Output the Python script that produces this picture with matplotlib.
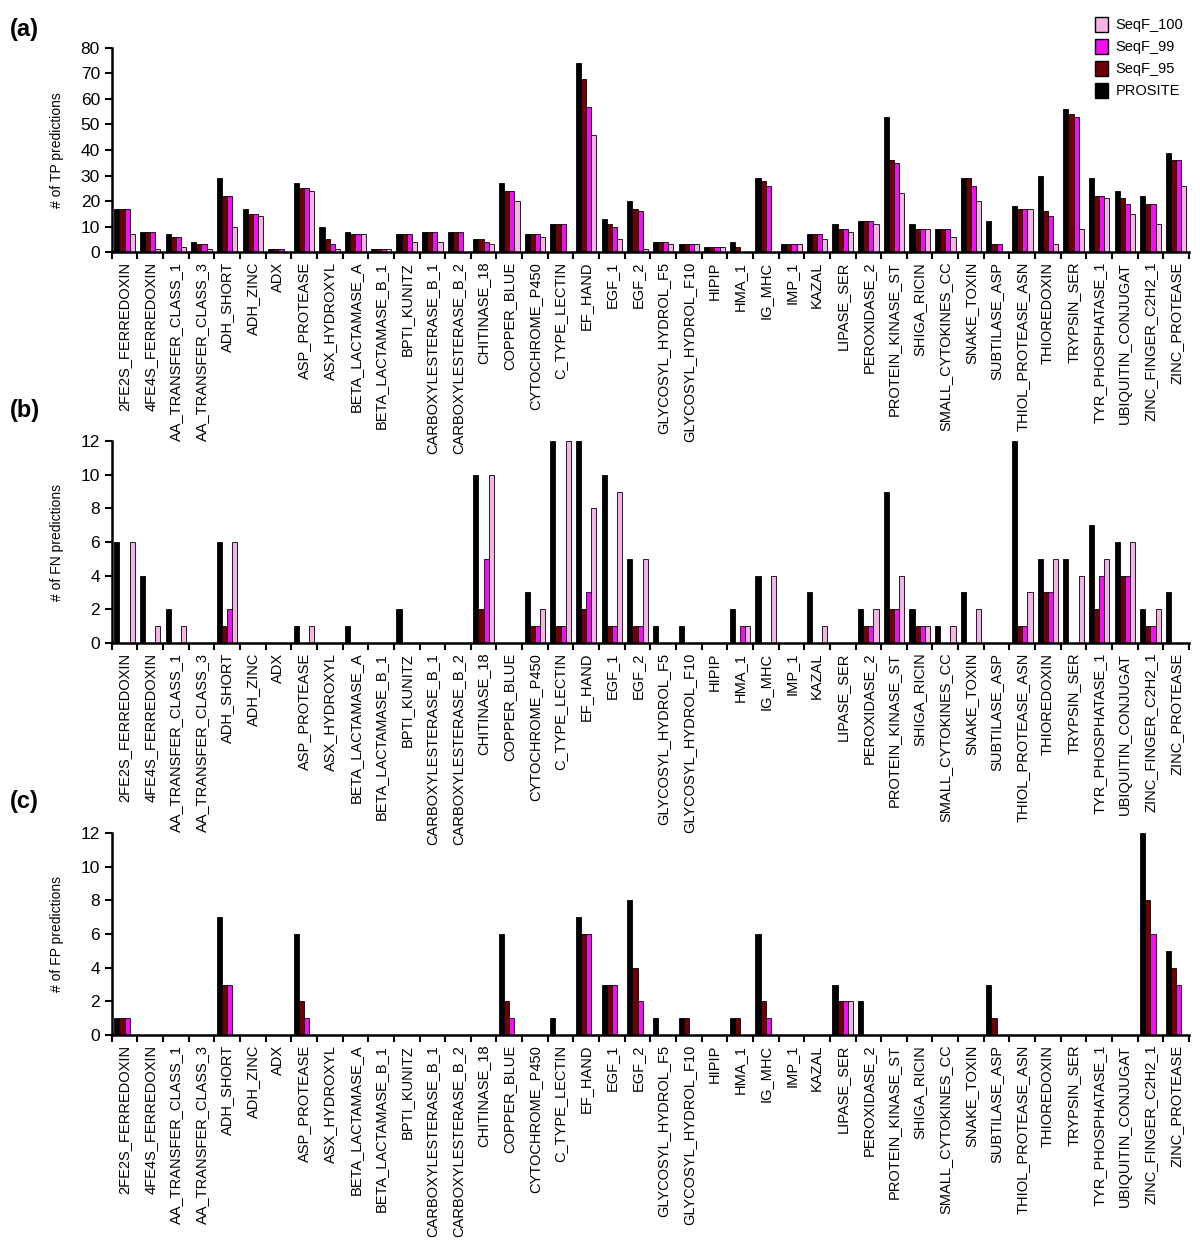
import numpy as np
import matplotlib
matplotlib.use('Agg')
import matplotlib.pyplot as plt
from matplotlib.patches import Patch

plt.rcParams['font.family'] = ['Liberation Sans', 'DejaVu Sans']

# protein families (x axis)
families = [
    '2FE2S_FERREDOXIN', '4FE4S_FERREDOXIN', 'AA_TRANSFER_CLASS_1', 'AA_TRANSFER_CLASS_3',
    'ADH_SHORT', 'ADH_ZINC', 'ADX', 'ASP_PROTEASE', 'ASX_HYDROXYL', 'BETA_LACTAMASE_A',
    'BETA_LACTAMASE_B_1', 'BPTI_KUNITZ', 'CARBOXYLESTERASE_B_1', 'CARBOXYLESTERASE_B_2',
    'CHITINASE_18', 'COPPER_BLUE', 'CYTOCHROME_P450', 'C_TYPE_LECTIN', 'EF_HAND', 'EGF_1',
    'EGF_2', 'GLYCOSYL_HYDROL_F5', 'GLYCOSYL_HYDROL_F10', 'HIPIP', 'HMA_1', 'IG_MHC', 'IMP_1',
    'KAZAL', 'LIPASE_SER', 'PEROXIDASE_2', 'PROTEIN_KINASE_ST', 'SHIGA_RICIN',
    'SMALL_CYTOKINES_CC', 'SNAKE_TOXIN', 'SUBTILASE_ASP', 'THIOL_PROTEASE_ASN', 'THIOREDOXIN',
    'TRYPSIN_SER', 'TYR_PHOSPHATASE_1', 'UBIQUITIN_CONJUGAT', 'ZINC_FINGER_C2H2_1', 'ZINC_PROTEASE']

series = ['PROSITE', 'SeqF_95', 'SeqF_99', 'SeqF_100']
colors = ['#000000', '#6e0008', '#f010f0', '#f5b4e6']

# (a) true positives
tp_prosite = [17, 8, 7, 4, 29, 17, 1, 27, 10, 8, 1, 7, 8, 8, 5, 27, 7, 11, 74, 13, 20, 4, 3, 2,
              4, 29, 3, 7, 11, 12, 53, 11, 9, 29, 12, 18, 30, 56, 29, 24, 22, 39]
tp_seqf95 = [17, 8, 6, 3, 22, 15, 1, 25, 5, 7, 1, 7, 8, 8, 5, 24, 7, 11, 68, 11, 17, 4, 3, 2,
             2, 28, 3, 7, 9, 12, 36, 9, 9, 29, 3, 17, 16, 54, 22, 21, 19, 36]
tp_seqf99 = [17, 8, 6, 3, 22, 15, 1, 25, 3, 7, 1, 7, 8, 8, 4, 24, 7, 11, 57, 10, 16, 4, 3, 2,
             0, 26, 3, 7, 9, 12, 35, 9, 9, 26, 3, 17, 14, 53, 22, 19, 19, 36]
tp_seqf100 = [7, 1, 2, 1, 10, 14, 0, 24, 1, 7, 1, 4, 4, 0, 3, 20, 6, 0, 46, 5, 1, 3, 3, 2,
              0, 0, 3, 5, 8, 11, 23, 9, 6, 20, 0, 17, 3, 9, 21, 15, 11, 26]

# (b) false negatives
fn_prosite = [6, 4, 2, 0, 6, 0, 0, 1, 0, 1, 0, 2, 0, 0, 10, 0, 3, 12, 12, 10, 5, 1, 1, 0,
              2, 4, 0, 3, 0, 2, 9, 2, 1, 3, 0, 12, 5, 5, 7, 6, 2, 3]
fn_seqf95 = [0, 0, 0, 0, 1, 0, 0, 0, 0, 0, 0, 0, 0, 0, 2, 0, 1, 1, 2, 1, 1, 0, 0, 0,
             0, 0, 0, 0, 0, 1, 2, 1, 0, 0, 0, 1, 3, 0, 2, 4, 1, 0]
fn_seqf99 = [0, 0, 0, 0, 2, 0, 0, 0, 0, 0, 0, 0, 0, 0, 5, 0, 1, 1, 3, 1, 1, 0, 0, 0,
             1, 0, 0, 0, 0, 1, 2, 1, 0, 0, 0, 1, 3, 0, 4, 4, 1, 0]
fn_seqf100 = [6, 1, 1, 0, 6, 0, 0, 1, 0, 0, 0, 0, 0, 0, 10, 0, 2, 12, 8, 9, 5, 0, 0, 0,
              1, 4, 0, 1, 0, 2, 4, 1, 1, 2, 0, 3, 5, 4, 5, 6, 2, 0]

# (c) false positives
fp_prosite = [1, 0, 0, 0, 7, 0, 0, 6, 0, 0, 0, 0, 0, 0, 0, 6, 0, 1, 7, 3, 8, 1, 1, 0,
              1, 6, 0, 0, 3, 2, 0, 0, 0, 0, 3, 0, 0, 0, 0, 0, 12, 5]
fp_seqf95 = [1, 0, 0, 0, 3, 0, 0, 2, 0, 0, 0, 0, 0, 0, 0, 2, 0, 0, 6, 3, 4, 0, 1, 0,
             1, 2, 0, 0, 2, 0, 0, 0, 0, 0, 1, 0, 0, 0, 0, 0, 8, 4]
fp_seqf99 = [1, 0, 0, 0, 3, 0, 0, 1, 0, 0, 0, 0, 0, 0, 0, 1, 0, 0, 6, 3, 2, 0, 0, 0,
             0, 1, 0, 0, 2, 0, 0, 0, 0, 0, 0, 0, 0, 0, 0, 0, 6, 3]
fp_seqf100 = [0, 0, 0, 0, 0, 0, 0, 0, 0, 0, 0, 0, 0, 0, 0, 0, 0, 0, 0, 0, 0, 0, 0, 0,
              0, 0, 0, 0, 2, 0, 0, 0, 0, 0, 0, 0, 0, 0, 0, 0, 0, 0]

panels = [
    ('(a)', '# of TP predictions', [tp_prosite, tp_seqf95, tp_seqf99, tp_seqf100], 80, 10),
    ('(b)', '# of FN predictions', [fn_prosite, fn_seqf95, fn_seqf99, fn_seqf100], 12, 2),
    ('(c)', '# of FP predictions', [fp_prosite, fp_seqf95, fp_seqf99, fp_seqf100], 12, 2),
]

fig = plt.figure(figsize=(12, 12.49), dpi=100)

# axes boxes (left, bottom, width, height) in figure fractions
boxes = [(0.0931, 0.7982, 0.8977, 0.1634),
         (0.0931, 0.4852, 0.8977, 0.1617),
         (0.0931, 0.1713, 0.8977, 0.1618)]
label_y = [0.976, 0.671, 0.358]

x = np.arange(len(families))
w = 0.2

for (tag, ylab, data, ymax, ystep), box, ly in zip(panels, boxes, label_y):
    ax = fig.add_axes(box)
    ax.patch.set_visible(False)  # let long labels from the panel above show through
    for k, vals in enumerate(data):
        ax.bar(x + (k - 1.5) * w, vals, w, color=colors[k], edgecolor='black', linewidth=0.6)
    ax.set_xlim(-0.5, len(families) - 0.5)
    ax.set_ylim(0, ymax)
    ax.set_yticks(np.arange(0, ymax + 1, ystep))
    ax.tick_params(axis='y', labelsize=12.5, width=1.5, length=5)
    ax.set_xticks(x)
    ax.set_xticklabels(families, rotation=90, fontsize=10.5)
    ax.tick_params(axis='x', which='major', length=0, pad=7)
    ax.set_xticks(np.arange(-0.5, len(families), 1), minor=True)
    ax.tick_params(axis='x', which='minor', length=5, width=1.5)
    ax.spines['top'].set_visible(False)
    ax.spines['right'].set_visible(False)
    ax.spines['left'].set_linewidth(1.8)
    ax.spines['bottom'].set_linewidth(1.8)
    ax.set_ylabel(ylab, fontsize=10, labelpad=12)
    fig.text(0.008, ly, tag, fontsize=17, fontweight='bold', va='center')

handles = [Patch(facecolor=colors[k], edgecolor='black', label=series[k]) for k in [3, 2, 1, 0]]
fig.legend(handles=handles, loc='upper right', bbox_to_anchor=(0.997, 0.997), frameon=False,
           fontsize=10.5, handlelength=0.9, handleheight=1.2, labelspacing=0.45, handletextpad=0.5)

plt.savefig('out.png', dpi=100)
